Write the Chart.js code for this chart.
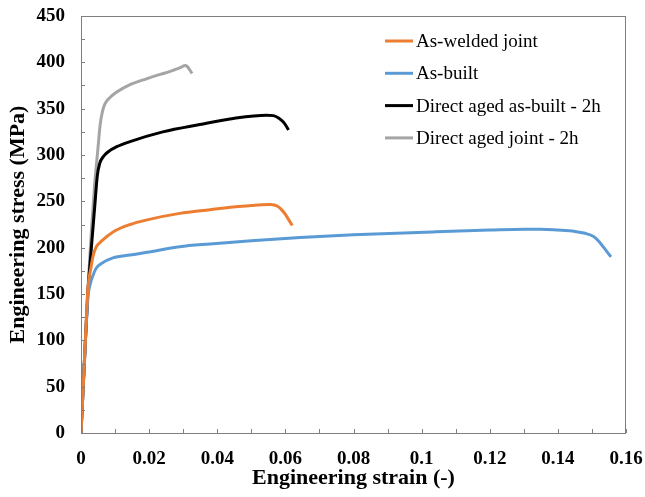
<!DOCTYPE html>
<html>
<head>
<meta charset="utf-8">
<script src="https://cdn.jsdelivr.net/npm/chart.js@4.4.1/dist/chart.umd.min.js"></script>
<style>
    body { margin: 0; background: #fff; }
    #wrap { width: 645px; height: 497px; }
</style>
</head>
<body>
<div id="wrap"><canvas id="stressStrainChart" width="645" height="497"></canvas></div>
<script>
// Tensile curves: engineering strain (-) vs engineering stress (MPa)
var seriesNames = ['As-welded joint', 'As-built', 'Direct aged as-built - 2h', 'Direct aged joint - 2h'];
var seriesColors = ['#ED7D31', '#5B9BD5', '#000000', '#A5A5A5'];

var weldedStrain = [0, 0.001, 0.002, 0.003, 0.0036, 0.0045, 0.006, 0.0094, 0.0144, 0.0194, 0.029, 0.0379, 0.0447, 0.05, 0.053, 0.0555, 0.0568, 0.058, 0.059, 0.06, 0.061, 0.062];
var weldedStress = [0, 77, 154, 180, 192, 201, 207, 217, 225, 230, 237, 241, 244, 245.5, 246.3, 246.5, 246, 244, 240.5, 236, 230, 224];

var builtStrain = [0, 0.001, 0.002, 0.0028, 0.0035, 0.0045, 0.006, 0.0094, 0.0144, 0.0194, 0.029, 0.0379, 0.05, 0.0643, 0.08, 0.1033, 0.12, 0.13, 0.135, 0.14, 0.145, 0.148, 0.1505, 0.152, 0.1535, 0.1556];
var builtStress = [0, 77, 145, 162, 170, 178, 183, 189, 192, 195, 201, 204, 207.5, 211, 214, 217, 219, 220, 220, 219, 217.5, 215.5, 212, 207, 200, 190];

var agedBuiltStrain = [0, 0.001, 0.002, 0.003, 0.004, 0.0048, 0.0055, 0.0065, 0.008, 0.0105, 0.0144, 0.024, 0.0349, 0.0447, 0.0545, 0.0565, 0.058, 0.0594, 0.0602, 0.0609];
var agedBuiltStress = [0, 77, 150, 198, 243, 278, 291, 298, 303.5, 309, 314.5, 325, 333, 339.5, 343, 342.5, 340, 335.5, 331.5, 327];

var agedJointStrain = [0, 0.001, 0.002, 0.003, 0.004, 0.005, 0.0056, 0.0063, 0.007, 0.0085, 0.0105, 0.0144, 0.0194, 0.0232, 0.026, 0.0275, 0.029, 0.0298, 0.0305, 0.0312, 0.0319, 0.0326];
var agedJointStress = [0, 77, 154, 215, 268, 308, 332, 347, 355, 362, 368, 376, 382.5, 387, 390, 392, 394, 395.5, 396.5, 395.5, 392, 388];

var xTicks = [0, 0.02, 0.04, 0.06, 0.08, 0.1, 0.12, 0.14, 0.16];
var yTicks = [0, 50, 100, 150, 200, 250, 300, 350, 400, 450];
var xMinorStep = 0.01;
var yMinorStep = 25;

var serif = "'Liberation Serif', 'Times New Roman', serif";
var frameColor = '#7f7f7f';

function toPoints(xs, ys) {
    return xs.map(function(x, i) { return { x: x, y: ys[i] }; });
}

var curveData = [
    toPoints(weldedStrain, weldedStress),
    toPoints(builtStrain, builtStress),
    toPoints(agedBuiltStrain, agedBuiltStress),
    toPoints(agedJointStrain, agedJointStress)
];

// Plot frame plus short inward tick marks on both axes
var framePlugin = {
    id: 'frame',
    afterDraw: function(chart) {
        var ctx = chart.ctx;
        var a = chart.chartArea;
        var xs = chart.scales.x, ys = chart.scales.y;
        ctx.save();
        ctx.strokeStyle = frameColor;
        ctx.lineWidth = 1;
        ctx.strokeRect(a.left + 0.5, a.top + 0.5, a.right - a.left - 1, a.bottom - a.top);
        ctx.beginPath();
        for (var v = xs.min; v <= xs.max + 1e-9; v += xMinorStep) {
            var px = Math.round(xs.getPixelForValue(v)) + 0.5;
            ctx.moveTo(px, a.bottom);
            ctx.lineTo(px, a.bottom - 4);
        }
        for (var w = ys.min; w <= ys.max + 1e-9; w += yMinorStep) {
            var py = Math.round(ys.getPixelForValue(w)) + 0.5;
            ctx.moveTo(a.left, py);
            ctx.lineTo(a.left + 4, py);
        }
        ctx.stroke();
        ctx.restore();
    }
};

// Legend drawn inside the plot, top right
var legendPlugin = {
    id: 'insideLegend',
    afterDraw: function(chart) {
        var ctx = chart.ctx;
        var a = chart.chartArea;
        var x0 = a.right - 241;
        ctx.save();
        ctx.font = '19px ' + serif;
        ctx.textBaseline = 'middle';
        ctx.fillStyle = '#000';
        chart.data.datasets.forEach(function(ds, i) {
            var y = a.top + 25 + i * 32.3;
            ctx.strokeStyle = ds.borderColor;
            ctx.lineWidth = 3;
            ctx.beginPath();
            ctx.moveTo(x0, y);
            ctx.lineTo(x0 + 28, y);
            ctx.stroke();
            ctx.fillText(ds.label, x0 + 31, y + 1);
        });
        ctx.restore();
    }
};

// keep the plot box fixed: no extra room reserved for overhanging labels
function fixX(scale) {
    scale.height = 64;
    scale.paddingLeft = 0;
    scale.paddingRight = 0;
}
function fixY(scale) {
    scale.width = 81;
    scale.paddingTop = 0;
    scale.paddingBottom = 0;
}

var ctx = document.getElementById('stressStrainChart').getContext('2d');
var chart = new Chart(ctx, {
    type: 'scatter',
    data: {
        datasets: curveData.map(function(pts, i) {
            return {
                label: seriesNames[i],
                data: pts,
                showLine: true,
                borderColor: seriesColors[i],
                backgroundColor: seriesColors[i],
                borderWidth: 3,
                pointRadius: 0,
                cubicInterpolationMode: 'monotone'
            };
        })
    },
    options: {
        responsive: false,
        animation: false,
        layout: {
            padding: { left: 0, right: 19, top: 16, bottom: 0 }
        },
        plugins: {
            legend: { display: false },
            tooltip: { enabled: false }
        },
        scales: {
            x: {
                type: 'linear',
                min: 0,
                max: 0.16,
                afterFit: fixX,
                afterBuildTicks: function(scale) {
                    scale.ticks = xTicks.map(function(v) { return { value: v }; });
                },
                grid: { display: false },
                border: { display: false },
                ticks: {
                    autoSkip: false,
                    maxRotation: 0,
                    padding: 7,
                    color: '#000',
                    font: { family: serif, size: 19, weight: 'bold' },
                    callback: function(v) { return String(Number(v.toFixed(2))); }
                },
                title: {
                    display: true,
                    text: 'Engineering strain (-)',
                    color: '#000',
                    font: { family: serif, size: 22, weight: 'bold' },
                    padding: { top: 0, bottom: 5 }
                }
            },
            y: {
                type: 'linear',
                min: 0,
                max: 450,
                afterFit: fixY,
                afterBuildTicks: function(scale) {
                    scale.ticks = yTicks.map(function(v) { return { value: v }; });
                },
                grid: { display: false },
                border: { display: false },
                ticks: {
                    autoSkip: false,
                    padding: 8,
                    color: '#000',
                    font: { family: serif, size: 19, weight: 'bold' }
                },
                title: {
                    display: true,
                    text: 'Engineering stress (MPa)',
                    color: '#000',
                    font: { family: serif, size: 22, weight: 'bold' },
                    padding: { top: 5, bottom: 0 }
                }
            }
        }
    },
    plugins: [framePlugin, legendPlugin]
});
</script>
</body>
</html>
